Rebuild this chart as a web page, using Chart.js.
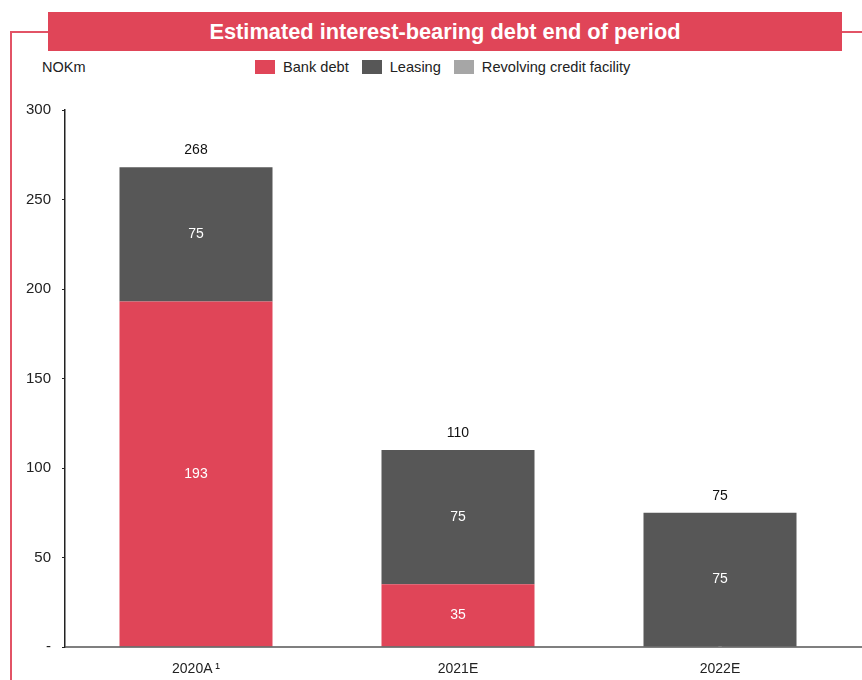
<!DOCTYPE html>
<html>
<head>
<meta charset="utf-8">
<script src="https://cdn.jsdelivr.net/npm/chart.js@4/dist/chart.umd.min.js"></script>
<style>
  html, body { margin: 0; padding: 0; background: #fff; }
  body { width: 862px; height: 680px; position: relative; overflow: hidden;
         font-family: "Liberation Sans", Arial, sans-serif; }
  .frame-v { position: absolute; left: 10px; top: 31px; width: 2px; height: 649px; background: #E25366; }
  .frame-h { position: absolute; top: 31px; height: 2px; background: #E25366; }
  .title { position: absolute; left: 48px; top: 12px; width: 794px; height: 39px;
           background: #E04558; color: #fff; font-weight: bold; font-size: 21.8px;
           font-family: "Liberation Sans Narrow", "Liberation Sans", Arial, sans-serif;
           display: flex; align-items: center; justify-content: center; }
  .unit { position: absolute; left: 42px; top: 59px; font-size: 14.5px; color: #222; }
  #legend { position: absolute; left: 255px; top: 59px; display: flex; align-items: center;
            font-size: 14.6px; color: #222; }
  #legend .item { display: flex; align-items: center; margin-right: 13px; }
  #legend .box { width: 20px; height: 14px; margin-right: 8px; }
  #chart { position: absolute; left: 0; top: 0; }
</style>
</head>
<body>
<div class="frame-v"></div>
<div class="frame-h" style="left:10px;width:38px"></div>
<div class="frame-h" style="left:842px;width:20px"></div>
<div class="title">Estimated interest-bearing debt end of period</div>
<div class="unit">NOKm</div>
<div id="legend"></div>
<canvas id="chart" width="862" height="680"></canvas>
<script>
const categories = ['2020A\u2009\u00b9', '2021E', '2022E'];
const bankDebt = [193, 35, 0];
const leasing = [75, 75, 75];
const revolving = [0, 0, 0];
const totals = [268, 110, 75];
const yTicks = [0, 50, 100, 150, 200, 250, 300];

const RED = '#E04558';
const DARK = '#575757';
const LIGHT = '#A6A6A6';
const FONT = '"Liberation Sans", Arial, sans-serif';

// white values inside the segments, black totals on top
const valueLabels = {
    id: 'valueLabels',
    afterDatasetsDraw(chart) {
        const ctx = chart.ctx;
        ctx.save();
        ctx.font = '14px ' + FONT;
        ctx.textAlign = 'center';
        ctx.textBaseline = 'middle';
        chart.data.datasets.forEach((ds, di) => {
            if (!ds.showValues) return;
            chart.getDatasetMeta(di).data.forEach((bar, i) => {
                const v = ds.data[i];
                ctx.fillStyle = '#fff';
                ctx.fillText(v === 0 ? '-' : v, bar.x, (bar.y + bar.base) / 2);
            });
        });
        const y = chart.scales.y;
        const meta = chart.getDatasetMeta(0);
        ctx.fillStyle = '#111';
        totals.forEach((t, i) => {
            ctx.fillText(t, meta.data[i].x, y.getPixelForValue(t) - 17);
        });
        ctx.restore();
    }
};

// baseline runs on to the right edge of the panel
const baseline = {
    id: 'baseline',
    afterDraw(chart) {
        const ctx = chart.ctx;
        const y0 = chart.scales.y.getPixelForValue(0);
        ctx.save();
        ctx.strokeStyle = '#555';
        ctx.lineWidth = 1.5;
        ctx.beginPath();
        ctx.moveTo(chart.chartArea.left, y0);
        ctx.lineTo(chart.width, y0);
        ctx.stroke();
        ctx.restore();
    }
};

const chart = new Chart(document.getElementById('chart'), {
    type: 'bar',
    data: {
        labels: categories,
        datasets: [
            { label: 'Bank debt', data: bankDebt, backgroundColor: RED, showValues: true },
            { label: 'Leasing', data: leasing, backgroundColor: DARK, showValues: true },
            { label: 'Revolving credit facility', data: revolving, backgroundColor: LIGHT }
        ]
    },
    options: {
        responsive: false,
        animation: false,
        barPercentage: 0.584,
        categoryPercentage: 1,
        layout: { padding: { top: 110, right: 11, bottom: 0, left: 0 } },
        plugins: {
            legend: { display: false },
            tooltip: { enabled: false }
        },
        scales: {
            x: {
                stacked: true,
                grid: { display: false },
                border: { display: false },
                ticks: { color: '#222', font: { size: 14, family: FONT }, padding: 6 },
                afterFit: (s) => { s.height = 33; }
            },
            y: {
                stacked: true,
                min: 0,
                max: 300,
                afterBuildTicks: (s) => { s.ticks = yTicks.map(v => ({ value: v })); },
                grid: { drawOnChartArea: false, drawTicks: true, tickLength: 3, color: '#222' },
                border: { display: true, color: '#222', width: 1.5 },
                ticks: {
                    color: '#222',
                    padding: 11,
                    font: { size: 15, family: FONT },
                    callback: (v) => v === 0 ? '-' : v
                },
                afterFit: (s) => { s.width = 65; }
            }
        }
    },
    plugins: [valueLabels, baseline]
});

// legend built from the datasets
const legend = document.getElementById('legend');
chart.data.datasets.forEach(ds => {
    const item = document.createElement('div');
    item.className = 'item';
    item.innerHTML = '<span class="box" style="background:' + ds.backgroundColor + '"></span>' + ds.label;
    legend.appendChild(item);
});
</script>
</body>
</html>
